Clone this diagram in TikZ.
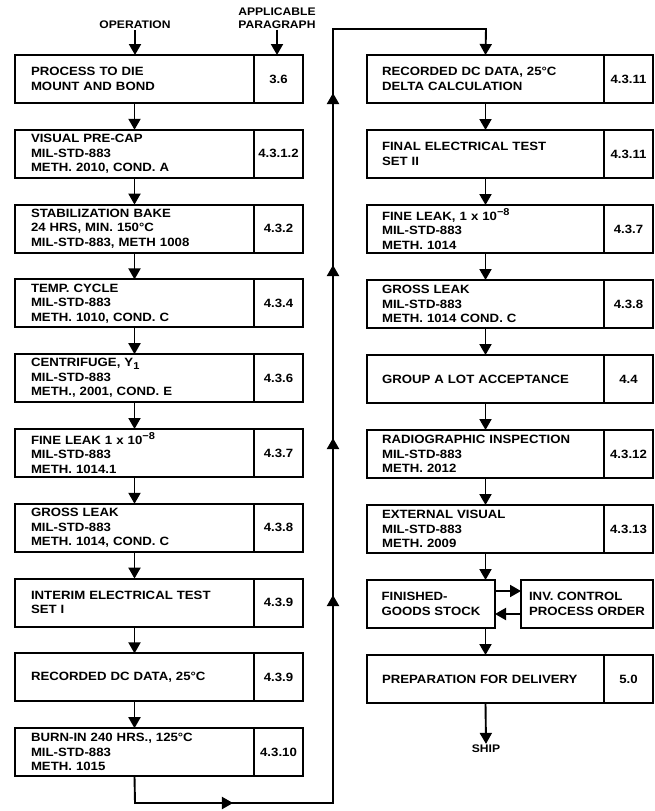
\documentclass[tikz,border=0pt]{standalone}
\usepackage{fontspec}
\setmainfont{Liberation Sans}[FakeStretch=1.1]
\usetikzlibrary{arrows.meta,decorations.markings}
\newcommand{\expo}[1]{\raisebox{4.5pt}{\fontsize{10}{10}\selectfont #1}}
\newcommand{\subsc}[1]{\raisebox{-2.5pt}{\fontsize{10}{10}\selectfont #1}}
\tikzset{
  tri/.tip={Triangle[length=11pt,width=12pt]},
  ln/.style={line width=1.9pt},
  arr/.style={ln,-{tri}},
  opbox/.style={draw,ln,rectangle,anchor=north west,outer sep=0pt,minimum height=48pt,
    align=left,inner ysep=0pt,font=\bfseries\fontsize{12}{14.5}\selectfont},
  lbox/.style={opbox,text width=207pt,inner xsep=16pt},
  rbox/.style={opbox,text width=207pt,inner xsep=15pt},
  numbox/.style={draw,ln,rectangle,anchor=north west,outer sep=0pt,minimum width=49pt,
    minimum height=48pt,inner sep=0pt,align=center,font=\bfseries\fontsize{12}{14.5}\selectfont},
  hdr/.style={font=\bfseries\fontsize{11}{13}\selectfont,align=center,inner sep=1pt}
}
\begin{document}
\begin{tikzpicture}[x=1pt,y=-1pt]
\useasboundingbox (0,0) rectangle (655,811);
% headers
\node[hdr] (op) at (135,25) {OPERATION};
\node[hdr] (ap) at (277,18) {APPLICABLE\\PARAGRAPH};
% left column
\node[lbox] (b1) at (15,55) {PROCESS TO DIE\\MOUNT AND BOND};
\node[numbox] (n1) at (b1.north east) {3.6};
\node[lbox] (b2) at (15,129.8) {VISUAL PRE-CAP\\MIL-STD-883\\METH. 2010, COND. A};
\node[numbox] (n2) at (b2.north east) {4.3.1.2};
\node[lbox] (b3) at (15,204.6) {STABILIZATION BAKE\\24 HRS, MIN. 150°C\\MIL-STD-883, METH 1008};
\node[numbox] (n3) at (b3.north east) {4.3.2};
\node[lbox] (b4) at (15,279.4) {TEMP. CYCLE\\MIL-STD-883\\METH. 1010, COND. C};
\node[numbox] (n4) at (b4.north east) {4.3.4};
\node[lbox] (b5) at (15,354.2) {CENTRIFUGE, Y\subsc{1}\\MIL-STD-883\\METH., 2001, COND. E};
\node[numbox] (n5) at (b5.north east) {4.3.6};
\node[lbox] (b6) at (15,429) {FINE LEAK 1 x 10\expo{−8}\\MIL-STD-883\\METH. 1014.1};
\node[numbox] (n6) at (b6.north east) {4.3.7};
\node[lbox] (b7) at (15,503.8) {GROSS LEAK\\MIL-STD-883\\METH. 1014, COND. C};
\node[numbox] (n7) at (b7.north east) {4.3.8};
\node[lbox] (b8) at (15,578.6) {INTERIM ELECTRICAL TEST\\SET I};
\node[numbox] (n8) at (b8.north east) {4.3.9};
\node[lbox] (b9) at (15,653.4) {RECORDED DC DATA, 25°C};
\node[numbox] (n9) at (b9.north east) {4.3.9};
\node[lbox] (b10) at (15,728.2) {BURN-IN 240 HRS., 125°C\\MIL-STD-883\\METH. 1015};
\node[numbox] (n10) at (b10.north east) {4.3.10};
% right column
\node[rbox] (r1) at (367,55) {RECORDED DC DATA, 25°C\\DELTA CALCULATION};
\node[numbox] (m1) at (r1.north east) {4.3.11};
\node[rbox] (r2) at (367,130) {FINAL ELECTRICAL TEST\\SET II};
\node[numbox] (m2) at (r2.north east) {4.3.11};
\node[rbox] (r3) at (367,205) {FINE LEAK, 1 x 10\expo{−8}\\MIL-STD-883\\METH. 1014};
\node[numbox] (m3) at (r3.north east) {4.3.7};
\node[rbox] (r4) at (367,280) {GROSS LEAK\\MIL-STD-883\\METH. 1014 COND. C};
\node[numbox] (m4) at (r4.north east) {4.3.8};
\node[rbox] (r5) at (367,355) {GROUP A LOT ACCEPTANCE};
\node[numbox] (m5) at (r5.north east) {4.4};
\node[rbox] (r6) at (367,430) {RADIOGRAPHIC INSPECTION\\MIL-STD-883\\METH. 2012};
\node[numbox] (m6) at (r6.north east) {4.3.12};
\node[rbox] (r7) at (367,505) {EXTERNAL VISUAL\\MIL-STD-883\\METH. 2009};
\node[numbox] (m7) at (r7.north east) {4.3.13};
\node[opbox,minimum width=128pt,inner xsep=0pt] (fgs) at (367,580) {FINISHED-\\GOODS STOCK};
\node[opbox,minimum width=132pt,inner xsep=0pt] (inv) at (521,580) {INV. CONTROL\\PROCESS ORDER};
\node[rbox] (r9) at (367,655) {PREPARATION FOR DELIVERY};
\node[numbox] (m9) at (r9.north east) {5.0};
\node[hdr] (ship) at (486,749) {SHIP};
% header arrows
\draw[arr] (op.south) -- (op.south |- b1.north);
\draw[arr] (ap.south) -- (ap.south |- n1.north);
% left arrows
\foreach \a/\b in {b1/b2,b2/b3,b3/b4,b4/b5,b5/b6,b6/b7,b7/b8,b8/b9,b9/b10}
  \draw[arr] (\a.south) -- (\b.north);
% right arrows
\foreach \a/\b in {r1/r2,r2/r3,r3/r4,r4/r5,r5/r6,r6/r7}
  \draw[arr] (\a.south) -- (\b.north);
\draw[arr] (r7.south) -- (r7.south |- fgs.north);
\draw[arr] (r9.north |- fgs.south) -- (r9.north);
\draw[arr] ([yshift=13pt]fgs.east) -- ([yshift=13pt]inv.west);
\draw[arr] ([yshift=-10pt]inv.west) -- ([yshift=-10pt]fgs.east);
\draw[arr] (r9.south) -- (ship.north);
% loop connector
\coordinate (l1) at (135,803);
\coordinate (l2) at (333,803);
\coordinate (l3) at (333,29);
\coordinate (l4) at (486,29);
\draw[arr, postaction={decorate}, decoration={markings,
    mark=at position 124.8pt with {\arrow{tri}},
    mark=at position 432.8pt with {\arrow{tri}},
    mark=at position 589.8pt with {\arrow{tri}},
    mark=at position 762.8pt with {\arrow{tri}},
    mark=at position 934.8pt with {\arrow{tri}}}]
  (b10.south) -- (l1) -- (l2) -- (l3) -- (l4) -- (r1.north);
\end{tikzpicture}
\end{document}
